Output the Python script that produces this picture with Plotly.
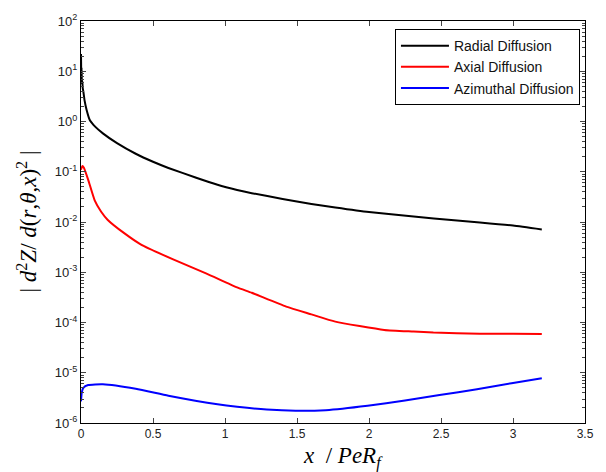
import plotly.graph_objects as go

# Radial diffusion (black)
radial_x = [0, 0.002, 0.004, 0.006, 0.009, 0.012, 0.016, 0.025, 0.039, 0.061, 0.1, 0.152, 0.25,
            0.38, 0.5, 0.607, 0.8, 0.948, 1.084, 1.186, 1.4, 1.6, 1.766, 2.0, 2.31, 2.45, 2.77,
            3.0, 3.2]
radial_y = [22, 9, 12, 5.5, 6.5, 4.6, 4.0, 2.6, 1.7, 1.07, 0.78, 0.58, 0.37,
            0.228, 0.158, 0.119, 0.076, 0.055, 0.0435, 0.0375, 0.0288, 0.0229, 0.0195, 0.0158,
            0.0129, 0.0117, 0.0098, 0.0085, 0.0071]

# Axial diffusion (red)
axial_x = [0, 0.01, 0.02, 0.05, 0.095, 0.14, 0.186, 0.3, 0.414, 0.64, 0.868, 1.084, 1.186,
           1.425, 1.6, 1.766, 2.106, 2.31, 2.447, 2.77, 3.0, 3.2]
axial_y = [0.11, 0.13, 0.12, 0.069, 0.027, 0.016, 0.011, 0.006, 0.0036, 0.0018, 0.00095,
           0.0005, 0.00039, 0.000207, 0.000145, 0.000104, 0.000071, 0.000066, 0.000063,
           0.00006, 0.00006, 0.000059]

# Azimuthal diffusion (blue)
azim_x = [0, 0.005, 0.016, 0.05, 0.152, 0.38, 0.607, 0.948, 1.084, 1.29, 1.49, 1.7, 1.99,
          2.25, 2.49, 2.75, 2.99, 3.2]
azim_y = [2.7e-6, 4.0e-6, 5.0e-6, 5.7e-6, 5.9e-6, 4.8e-6, 3.5e-6, 2.35e-6, 2.1e-6, 1.85e-6,
          1.75e-6, 1.8e-6, 2.2e-6, 2.8e-6, 3.6e-6, 4.7e-6, 6.2e-6, 7.8e-6]

names = ["Radial Diffusion", "Axial Diffusion", "Azimuthal Diffusion"]
colors = ["#000000", "#ff0000", "#0000ff"]

x_ticks = [0, 0.5, 1, 1.5, 2, 2.5, 3, 3.5]
x_ticklabels = ["0", "0.5", "1", "1.5", "2", "2.5", "3", "3.5"]
y_exponents = [-6, -5, -4, -3, -2, -1, 0, 1, 2]

y_tickvals = [10.0 ** e for e in y_exponents]
y_ticktext = ["10<sup>%d</sup>" % e for e in y_exponents]
y_minor = [m * 10.0 ** e for e in y_exponents[:-1] for m in range(2, 10)]

fig = go.Figure()
for xs, ys, n, c in zip([radial_x, axial_x, azim_x], [radial_y, axial_y, azim_y], names, colors):
    fig.add_trace(go.Scatter(x=xs, y=ys, mode="lines", name=n,
                             line=dict(color=c, width=2, shape="spline", smoothing=0.5)))

fig.update_layout(
    width=606, height=472,
    margin=dict(l=81, r=12, t=21, b=49),
    paper_bgcolor="white", plot_bgcolor="white",
    font=dict(family="Liberation Sans, Arial, sans-serif", size=12, color="#222"),
    showlegend=True,
    legend=dict(x=0.99, y=0.98, xanchor="right", yanchor="top",
                bordercolor="black", borderwidth=1, bgcolor="white",
                font=dict(size=14, color="#111"), tracegroupgap=0, itemwidth=48),
    xaxis=dict(range=[0, 3.5], tickvals=x_ticks, ticktext=x_ticklabels,
               ticks="inside", ticklen=5, showline=True, linecolor="black",
               linewidth=1, mirror="ticks", showgrid=False, zeroline=False),
    yaxis=dict(type="log", range=[-6, 2], tickvals=y_tickvals, ticktext=y_ticktext,
               tickfont=dict(size=13),
               ticks="inside", ticklen=5, showline=True, linecolor="black",
               linewidth=1, mirror="ticks", showgrid=False, zeroline=False,
               minor=dict(ticks="inside", ticklen=3, tickvals=y_minor, showgrid=False)),
)

fig.add_annotation(xref="paper", yref="paper", x=0.52, y=-0.085,
                   xanchor="center", yanchor="middle", showarrow=False,
                   text="<i>x</i>  / <i>PeR<sub>f</sub></i>",
                   font=dict(family="Liberation Serif, Times New Roman, serif", size=23, color="black"))
fig.add_annotation(xref="paper", yref="paper", x=-0.108, y=0.5,
                   xanchor="center", yanchor="middle", showarrow=False, textangle=-90,
                   text="| <i>d</i><sup>2</sup><i>Z</i>/ <i>d</i>(<i>r</i>,<i>θ</i>,<i>x</i>)<sup>2</sup> |",
                   font=dict(family="Liberation Serif, Times New Roman, serif", size=23, color="black"))

fig.write_html("out.html", config={"displayModeBar": False},
               post_script="document.body.style.margin='0';")
